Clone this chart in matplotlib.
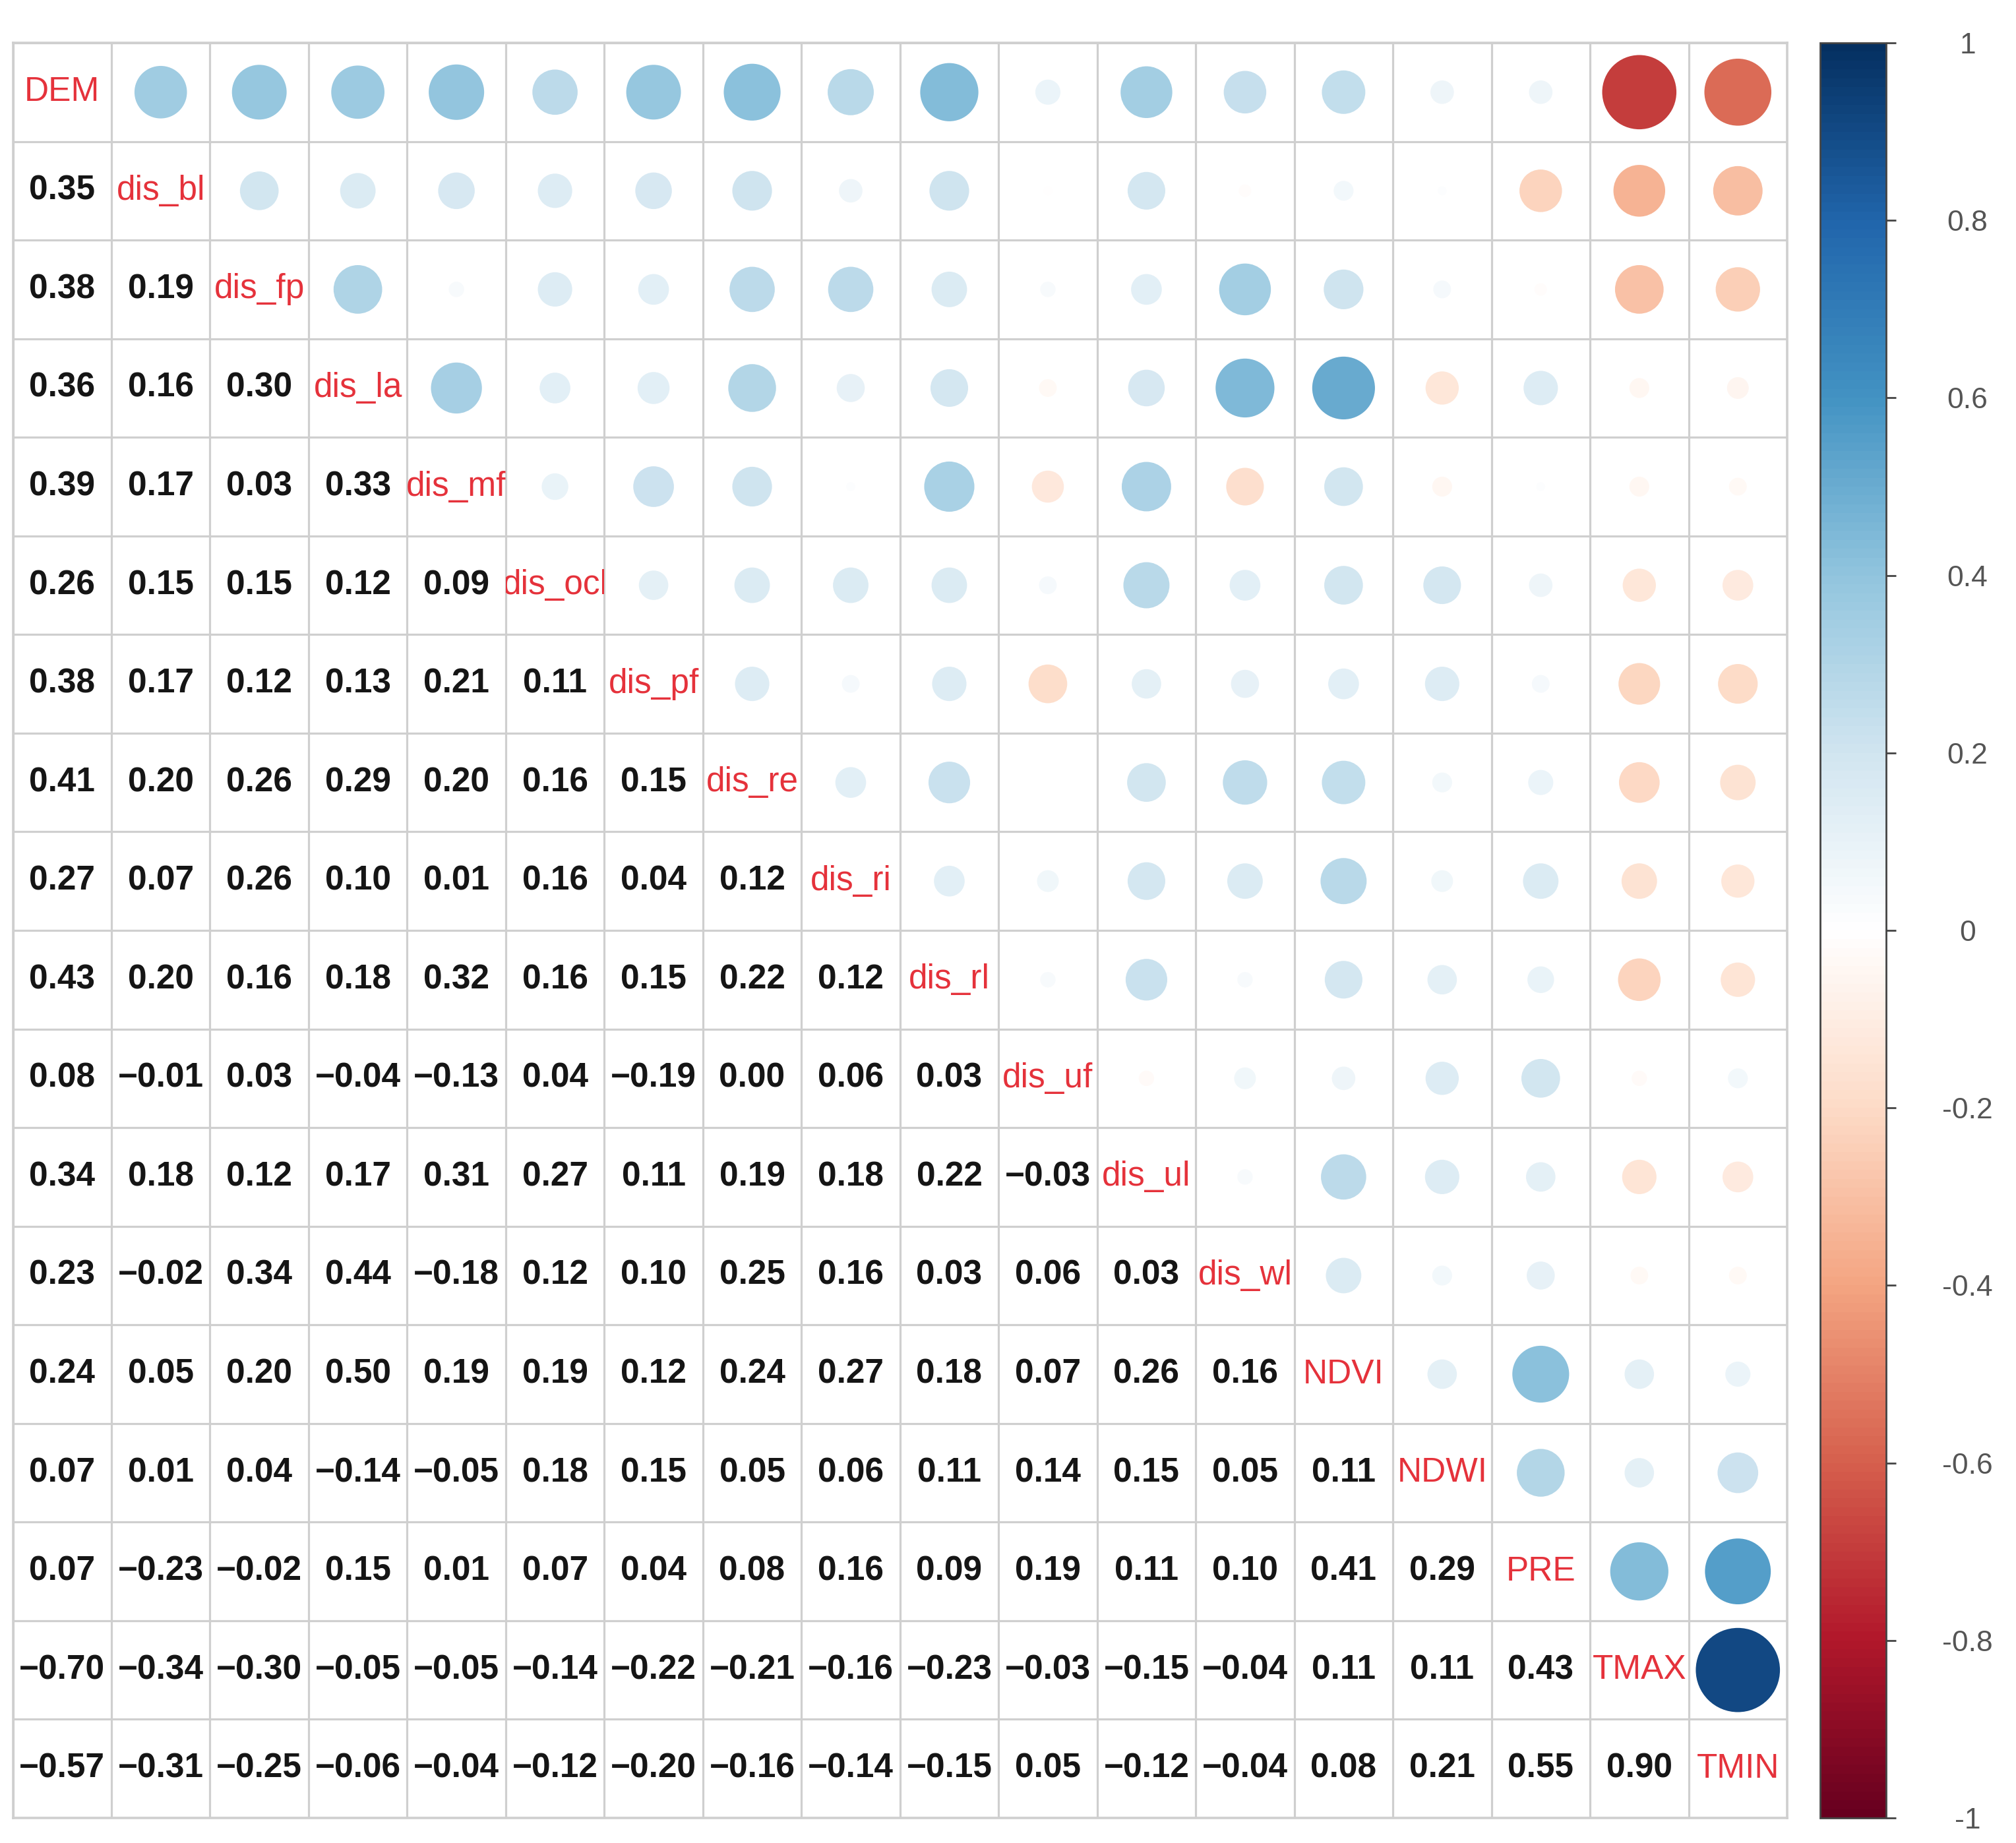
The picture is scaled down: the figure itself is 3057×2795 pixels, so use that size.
import numpy as np
import matplotlib
matplotlib.use("Agg")
import matplotlib.pyplot as plt
from matplotlib.colors import LinearSegmentedColormap, Normalize
from matplotlib.patches import Circle
from matplotlib.cm import ScalarMappable
from matplotlib.transforms import Bbox, TransformedBbox

plt.rcParams['font.family'] = ['Liberation Sans', 'DejaVu Sans']

variables = ["DEM", "dis_bl", "dis_fp", "dis_la", "dis_mf", "dis_ocl", "dis_pf",
             "dis_re", "dis_ri", "dis_rl", "dis_uf", "dis_ul", "dis_wl", "NDVI",
             "NDWI", "PRE", "TMAX", "TMIN"]

# lower-triangle correlation rows (row k holds correlations with the first k variables)
row_dis_bl = [0.35]
row_dis_fp = [0.38, 0.19]
row_dis_la = [0.36, 0.16, 0.30]
row_dis_mf = [0.39, 0.17, 0.03, 0.33]
row_dis_ocl = [0.26, 0.15, 0.15, 0.12, 0.09]
row_dis_pf = [0.38, 0.17, 0.12, 0.13, 0.21, 0.11]
row_dis_re = [0.41, 0.20, 0.26, 0.29, 0.20, 0.16, 0.15]
row_dis_ri = [0.27, 0.07, 0.26, 0.10, 0.01, 0.16, 0.04, 0.12]
row_dis_rl = [0.43, 0.20, 0.16, 0.18, 0.32, 0.16, 0.15, 0.22, 0.12]
row_dis_uf = [0.08, -0.01, 0.03, -0.04, -0.13, 0.04, -0.19, 0.00, 0.06, 0.03]
row_dis_ul = [0.34, 0.18, 0.12, 0.17, 0.31, 0.27, 0.11, 0.19, 0.18, 0.22, -0.03]
row_dis_wl = [0.23, -0.02, 0.34, 0.44, -0.18, 0.12, 0.10, 0.25, 0.16, 0.03, 0.06, 0.03]
row_NDVI = [0.24, 0.05, 0.20, 0.50, 0.19, 0.19, 0.12, 0.24, 0.27, 0.18, 0.07, 0.26, 0.16]
row_NDWI = [0.07, 0.01, 0.04, -0.14, -0.05, 0.18, 0.15, 0.05, 0.06, 0.11, 0.14, 0.15, 0.05, 0.11]
row_PRE = [0.07, -0.23, -0.02, 0.15, 0.01, 0.07, 0.04, 0.08, 0.16, 0.09, 0.19, 0.11, 0.10, 0.41, 0.29]
row_TMAX = [-0.70, -0.34, -0.30, -0.05, -0.05, -0.14, -0.22, -0.21, -0.16, -0.23, -0.03, -0.15,
            -0.04, 0.11, 0.11, 0.43]
row_TMIN = [-0.57, -0.31, -0.25, -0.06, -0.04, -0.12, -0.20, -0.16, -0.14, -0.15, 0.05, -0.12,
            -0.04, 0.08, 0.21, 0.55, 0.90]

lower_rows = [[], row_dis_bl, row_dis_fp, row_dis_la, row_dis_mf, row_dis_ocl, row_dis_pf,
              row_dis_re, row_dis_ri, row_dis_rl, row_dis_uf, row_dis_ul, row_dis_wl,
              row_NDVI, row_NDWI, row_PRE, row_TMAX, row_TMIN]

colorbar_ticks = [-1, -0.8, -0.6, -0.4, -0.2, 0, 0.2, 0.4, 0.6, 0.8, 1]
colorbar_labels = ["-1", "-0.8", "-0.6", "-0.4", "-0.2", "0", "0.2", "0.4", "0.6", "0.8", "1"]

n = len(variables)
corr = np.eye(n)
for i, row in enumerate(lower_rows):
    for j, v in enumerate(row):
        corr[i, j] = v
        corr[j, i] = v

cmap = LinearSegmentedColormap.from_list(
    "corrRdBu",
    ["#67001F", "#B2182B", "#D6604D", "#F4A582", "#FDDBC7", "#FFFFFF",
     "#D1E5F0", "#92C5DE", "#4393C3", "#2166AC", "#053061"], N=200)
norm = Normalize(-1, 1)

W, H = 3057, 2795
fig = plt.figure(figsize=(W / 100, H / 100), dpi=100)
fig.patch.set_facecolor("white")

gl, gr, gt, gb = 19.5, 2710, 65, 2757
ax = fig.add_axes([gl / W, 1 - gb / H, (gr - gl) / W, (gb - gt) / H])
ax.set_xlim(0, n)
ax.set_ylim(n, 0)
ax.set_xticks(np.arange(n + 1))
ax.set_yticks(np.arange(n + 1))
ax.tick_params(length=0, labelbottom=False, labelleft=False)
ax.grid(True, color="#CFCFCF", linewidth=2.3, zorder=0)
ax.set_axisbelow(True)
for s in ax.spines.values():
    s.set_color("#CFCFCF")
    s.set_linewidth(2.6)

for i in range(n):
    for j in range(n):
        r = corr[i, j]
        if i == j:
            t = ax.text(j + 0.5, i + 0.5, variables[i], ha="center", va="center",
                        fontsize=37, color="#E5323B", zorder=3)
            t.set_clip_box(TransformedBbox(Bbox([[j, i], [j + 1, i + 1]]), ax.transData))
            t.set_clip_on(True)
        elif i > j:
            ax.text(j + 0.5, i + 0.5, f"{r:.2f}".replace("-", "\u2212"), ha="center",
                    va="center", fontsize=37, fontweight="bold", color="#151515", zorder=3)
        else:
            c = Circle((j + 0.5, i + 0.5), 0.45 * np.sqrt(abs(r)), facecolor=cmap(norm(r)),
                       edgecolor="none", zorder=2)
            ax.add_patch(c)

# colorbar
cl, cr = 2760, 2860
cax = fig.add_axes([cl / W, 1 - gb / H, (cr - cl) / W, (gb - gt) / H])
cb = fig.colorbar(ScalarMappable(norm=norm, cmap=cmap), cax=cax)
cb.set_ticks(colorbar_ticks)
cb.set_ticklabels(colorbar_labels)
cb.outline.set_edgecolor("#444444")
cb.outline.set_linewidth(2)
cax.tick_params(axis="y", direction="out", length=11, width=2, color="#444444",
                labelsize=32, labelcolor="#555555", pad=78)
for lab in cax.get_yticklabels():
    lab.set_horizontalalignment("center")

fig.savefig("out.png", dpi=100, facecolor="white")
